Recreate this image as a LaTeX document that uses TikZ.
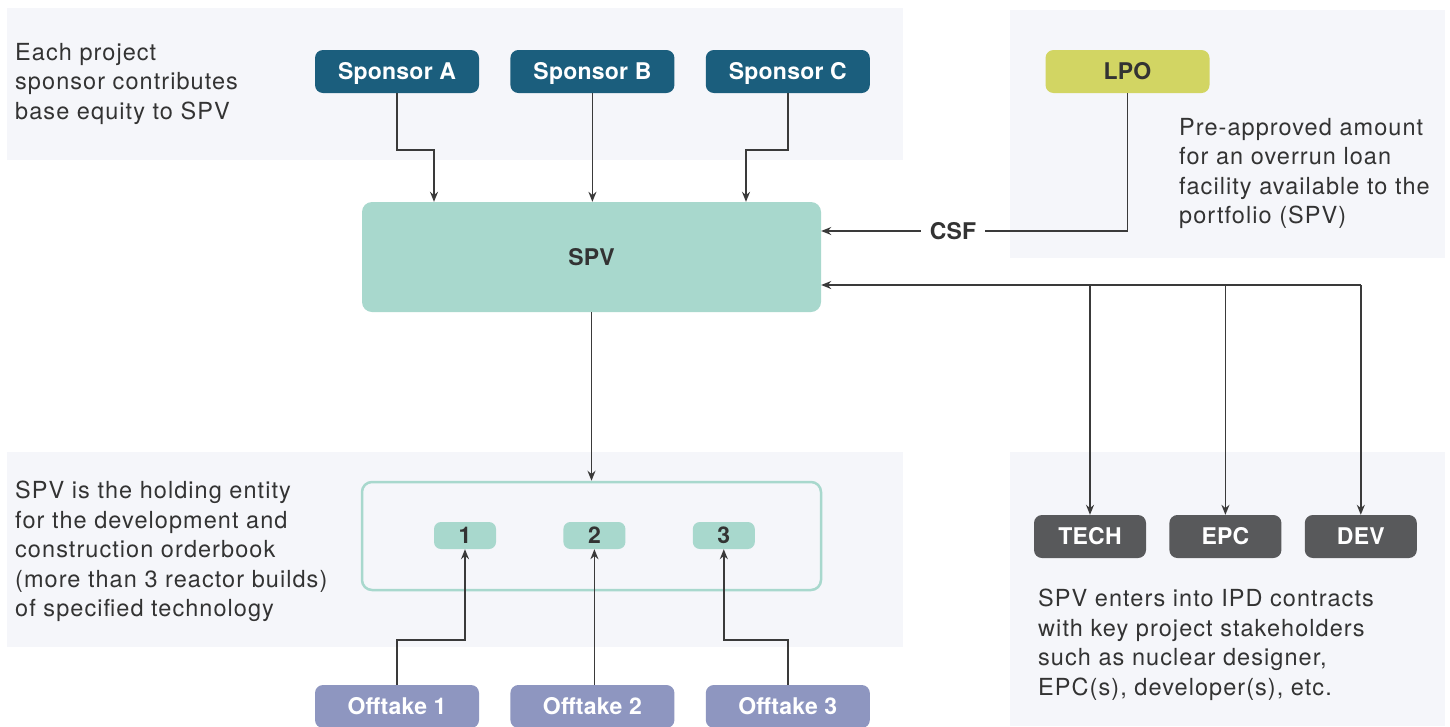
\documentclass[tikz,border=0pt]{standalone}
\usepackage{fontspec}
\setmainfont{TeX Gyre Heros}[LetterSpace=4.5]
\newfontfamily\boxfont{TeX Gyre Heros}[LetterSpace=1]
\usetikzlibrary{positioning, arrows.meta}
\definecolor{panelbg}{HTML}{F5F6FA}
\definecolor{sponsorblue}{HTML}{1B5E7D}
\definecolor{spvgreen}{HTML}{A8D8CD}
\definecolor{lpogreen}{HTML}{D2D563}
\definecolor{partygray}{HTML}{58595B}
\definecolor{offtakeblue}{HTML}{8E96C0}
\definecolor{textdark}{HTML}{333333}
\definecolor{linegray}{HTML}{3A3A3A}
\tikzset{x=1pt, y=-1pt, % one unit per pixel of the layout, y going down
box/.style={ % Sets the properties for the labelled boxes
rounded corners=8pt,
minimum width=164pt, minimum height=43pt,
inner sep=0pt, text=white,
text height=16.5pt, text depth=0pt,
font=\boxfont\fontsize{23}{26}\selectfont\bfseries},
sponsor/.style={box, fill=sponsorblue},
offtake/.style={box, fill=offtakeblue},
party/.style={box, fill=partygray, minimum width=112pt},
lpo/.style={box, fill=lpogreen, text=textdark},
unit/.style={ % Reactor builds inside the orderbook
box, fill=spvgreen, rounded corners=7pt,
minimum width=62pt, minimum height=27pt, text=textdark},
note/.style={ % Explaining text in the panels
align=left, anchor=north west, inner sep=0pt, text=textdark,
font=\fontsize{23.5}{29.5}\selectfont},
panel/.style={fill=panelbg},
link/.style={draw=linegray, line width=1.5pt},
arr/.style={link, -{Stealth[length=10pt,width=8pt]}}}

\begin{document}
\begin{tikzpicture}

    \useasboundingbox (0,0) rectangle (1450,726);
    \fill[white] (0,0) rectangle (1450,726);

    % panels
    \fill[panel] (7,8) rectangle (903,160);
    \fill[panel] (1010,10) rectangle (1445,258);
    \fill[panel] (7,452) rectangle (903,647);
    \fill[panel] (1010,452) rectangle (1445,726);

    \node[note] (eqnote) at (15,43) {Each project\\sponsor contributes\\base equity to SPV};
    \node[note] (lponote) at (1179,118) {Pre-approved amount\\for an overrun loan\\facility available to the\\portfolio (SPV)};
    \node[note] (booknote) at (15,481) {SPV is the holding entity\\for the development and\\construction orderbook\\(more than 3 reactor builds)\\of specified technology};
    \node[note] (ipdnote) at (1038,589) {SPV enters into IPD contracts\\with key project stakeholders\\such as nuclear designer,\\EPC(s), developer(s), etc.};

    \node[sponsor] (sA) at (397,71.5) {Sponsor A};
    \node[sponsor, right=31pt of sA] (sB) {Sponsor B};
    \node[sponsor, right=31pt of sB] (sC) {Sponsor C};
    \node[lpo] (lpo) at (1127.5,71.5) {LPO};

    \node[box, fill=spvgreen, text=textdark, rounded corners=10pt,
          minimum width=459pt, minimum height=110pt] (spv) at (591.5,257) {SPV};
    \node[text=textdark, font=\boxfont\fontsize{23}{26}\selectfont\bfseries,
          inner sep=9pt] (csf) at (953,231) {CSF};

    \node[draw=spvgreen, line width=2.5pt, rounded corners=10pt,
          minimum width=459pt, minimum height=108pt] (book) at (591.5,536) {};
    \node[unit] (u1) at (465,535.5) {1};
    \node[unit, right=67pt of u1] (u2) {2};
    \node[unit, right=67pt of u2] (u3) {3};

    \node[offtake] (o1) at (397,706.5) {Offtake 1};
    \node[offtake, right=31pt of o1] (o2) {Offtake 2};
    \node[offtake, right=31pt of o2] (o3) {Offtake 3};

    \node[party] (tech) at (1090,536.5) {TECH};
    \node[party, right=23pt of tech] (epc) {EPC};
    \node[party, right=23pt of epc] (dev) {DEV};

    % sponsors to SPV
    \draw[arr] (sA.south) -- ++(0,57) -| ([xshift=-157.5pt]spv.north);
    \draw[arr] (sB.south) -- (sB.south |- spv.north);
    \draw[arr] (sC.south) -- ++(0,57) -| ([xshift=154.5pt]spv.north);

    % overrun facility
    \draw[link] (lpo.south) |- (csf.east);
    \draw[arr] (csf.west) -- (spv.east |- csf.west);

    % contracts
    \coordinate (fork) at (dev.north |- 0,285);
    \draw[arr] (fork) -- (spv.east |- fork);
    \foreach \p in {tech, epc, dev}
        \draw[arr] (\p.north |- fork) -- (\p.north);

    \draw[arr] (spv.south) -- (book.north);

    % offtakes
    \draw[arr] (o1.north) -- ++(0,-45) -| (u1.south);
    \draw[arr] (u2.south |- o2.north) -- (u2.south);
    \draw[arr] (o3.north) -- ++(0,-45) -| (u3.south);

\end{tikzpicture}
\end{document}
